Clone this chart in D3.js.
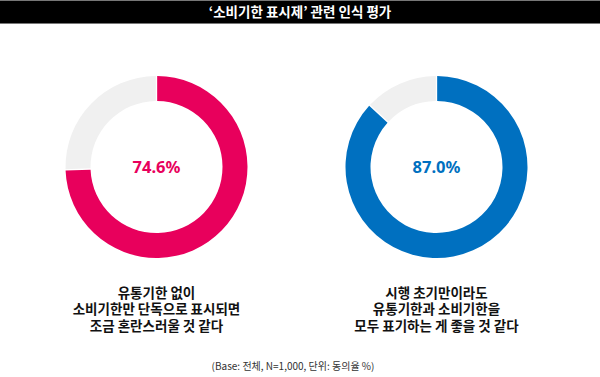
<!DOCTYPE html>
<html><head><meta charset="utf-8">
<script src="https://cdn.jsdelivr.net/npm/d3@7"></script>
<style>body{margin:0;background:#fff}svg{display:block}</style>
</head><body>
<script>
const title = "‘소비기한 표시제’ 관련 인식 평가";
const values = [74.6, 87.0];
const valueLabels = ["74.6%", "87.0%"];
const colors = ["#e8005c", "#0070c0"];
const captions = [
  ["유통기한 없이", "소비기한만 단독으로 표시되면", "조금 혼란스러울 것 같다"],
  ["시행 초기만이라도", "유통기한과 소비기한을", "모두 표기하는 게 좋을 것 같다"]
];
const footnote = "(Base: 전체, N=1,000, 단위: 동의율 %)";

const W = 600, H = 377;
const font = "'Noto Sans CJK KR','Noto Sans',sans-serif";
const svg = d3.select("body").append("svg").attr("width", W).attr("height", H);

svg.append("rect").attr("x",0).attr("y",0).attr("width",W).attr("height",24).attr("fill","#777");
svg.append("rect").attr("x",0).attr("y",1).attr("width",W).attr("height",22).attr("fill","#000");
svg.append("text").attr("x",W/2).attr("y",12).attr("dy","0.36em").attr("text-anchor","middle")
  .attr("fill","#fff").attr("font-family",font).attr("font-weight","bold").attr("font-size",13.5).text(title);

const x = d3.scalePoint().domain(d3.range(values.length)).range([156.5, 436.5]);
const pie = d3.pie().sort(null).value(d => d).padAngle(0.012);
const arc = d3.arc().innerRadius(66).outerRadius(91);
const cy = 167;

values.forEach((v, i) => {
  const g = svg.append("g").attr("transform", `translate(${x(i)},${cy})`);
  const arcs = pie([v, 100 - v]);
  g.selectAll("path").data(arcs).join("path")
    .attr("d", arc)
    .attr("fill", (d, j) => j === 0 ? colors[i] : "#f0f0f0");
  g.append("text").attr("text-anchor","middle").attr("dy","0.35em")
    .attr("fill", colors[i]).attr("font-family","'Noto Sans',sans-serif").attr("font-weight","bold")
    .attr("font-size",16.5).text(valueLabels[i]);
  const t = svg.append("text").attr("text-anchor","middle").attr("font-family",font)
    .attr("font-weight","bold").attr("font-size",13.5).attr("fill","#111");
  captions[i].forEach((line, k) => {
    t.append("tspan").attr("x", x(i)).attr("y", 293 + k*16.7).attr("dy","0.35em").text(line);
  });
});

svg.append("text").attr("x",293).attr("y",366).attr("dy","0.35em").attr("text-anchor","middle")
  .attr("font-family",font).attr("font-size",10).attr("fill","#333").text(footnote);
</script>
</body></html>
